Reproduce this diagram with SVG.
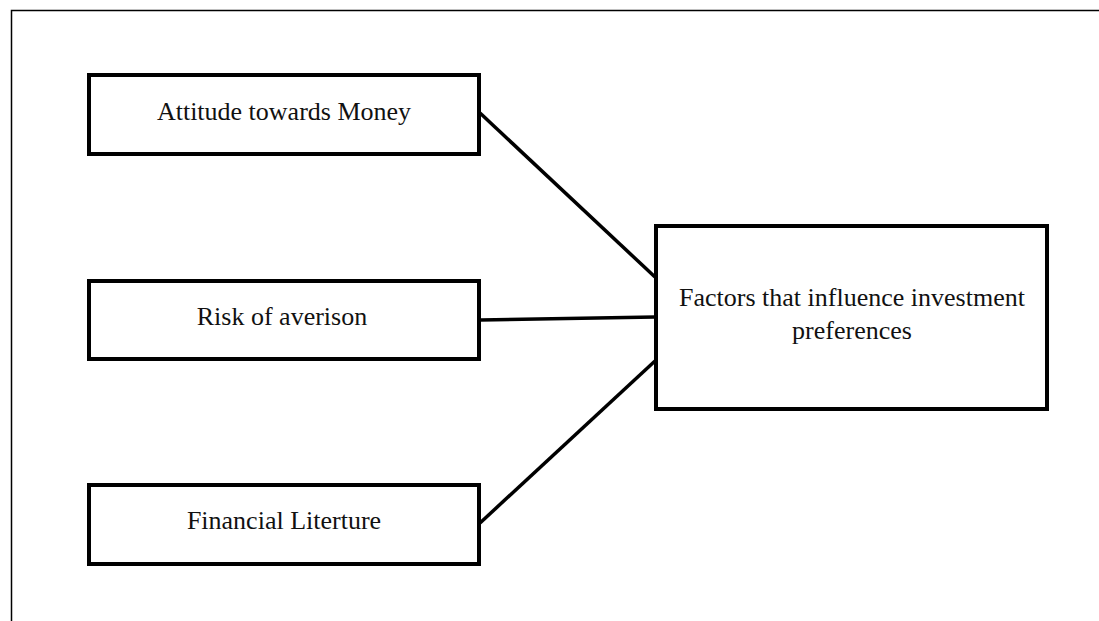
<svg xmlns="http://www.w3.org/2000/svg" width="1099" height="621" viewBox="0 0 1099 621">
<style>
.box{fill:#fff;stroke:#000;stroke-width:4}
.lbl{font-family:"Liberation Serif","Times New Roman",serif;font-size:26px;fill:#111;text-anchor:middle}
.conn{stroke:#000;stroke-width:3.5;fill:none}
</style>
<rect width="1099" height="621" fill="#fff"/>
<rect x="11.5" y="10.5" width="1100" height="620" fill="none" stroke="#000" stroke-width="1.5"/>
<g id="connectors">
<line class="conn" x1="480" y1="113" x2="655" y2="277"/>
<line class="conn" x1="480" y1="320" x2="655" y2="317"/>
<line class="conn" x1="480" y1="523" x2="655" y2="361"/>
</g>
<g id="node-attitude">
<rect class="box" x="89" y="75" width="390" height="79"/>
<text class="lbl" x="284" y="120">Attitude towards Money</text>
</g>
<g id="node-risk">
<rect class="box" x="89" y="281" width="390" height="78"/>
<text class="lbl" x="282" y="325">Risk of averison</text>
</g>
<g id="node-financial">
<rect class="box" x="89" y="485" width="390" height="79"/>
<text class="lbl" x="284" y="529">Financial Literture</text>
</g>
<g id="node-factors">
<rect class="box" x="656" y="226" width="391" height="183"/>
<text class="lbl" x="852" y="306">Factors that influence investment</text>
<text class="lbl" x="852" y="339">preferences</text>
</g>
</svg>
